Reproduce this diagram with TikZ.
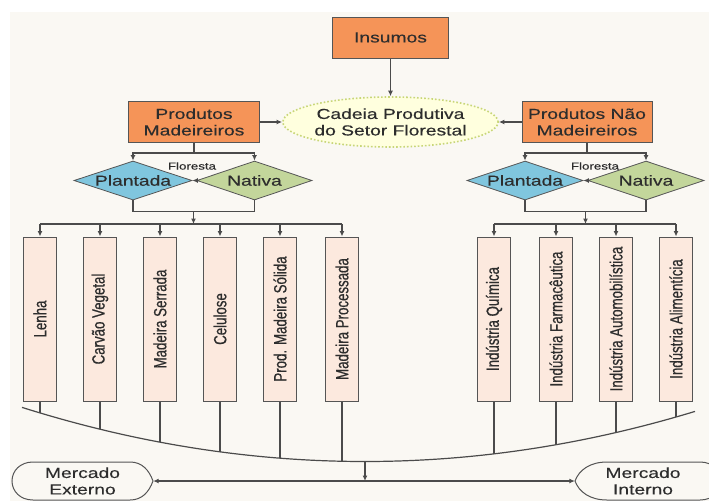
\documentclass[tikz,border=0pt]{standalone}
\usepackage{graphicx}
\usepackage{fontspec}
\setmainfont{Liberation Sans}[FakeStretch=1.33, FakeBold=0.3]
\newfontfamily\vertfont{Liberation Sans}[FakeStretch=0.75, FakeBold=0.6]
\usetikzlibrary{arrows.meta,shapes.geometric}

\definecolor{fundo}{RGB}{250,248,243}
\definecolor{laranja}{RGB}{245,148,88}
\definecolor{borda}{RGB}{85,85,85}
\definecolor{cinza}{RGB}{75,75,75}
\definecolor{azul}{RGB}{128,198,222}
\definecolor{verde}{RGB}{195,214,155}
\definecolor{amarelo}{RGB}{255,255,222}
\definecolor{pontilhado}{RGB}{200,214,120}
\definecolor{pele}{RGB}{252,233,222}
\definecolor{texto}{RGB}{45,45,45}

\begin{document}
\begin{tikzpicture}[x=1pt, y=-1pt, >={Latex[length=5.5pt,width=5pt]},
    linha/.style={draw=cinza, line width=1.2pt},
    caixa/.style={draw=borda, fill=laranja, line width=1pt, minimum height=41pt, align=center, inner sep=2pt, text=texto, font=\fontsize{14.5}{16.5}\selectfont},
    losango/.style={diamond, draw=borda, line width=0.8pt, minimum width=118pt, minimum height=39pt, aspect=3, inner sep=0pt, text=texto, font=\fontsize{14.5}{16.5}\selectfont},
    produto/.style={draw=borda, fill=pele, line width=1pt, minimum width=33pt, minimum height=164pt, inner sep=0pt, text=texto, font=\vertfont\fontsize{17.7}{18}\selectfont},
    mercado/.style={minimum height=37pt, align=center, inner sep=0pt, text=texto, font=\fontsize{14.5}{16.5}\selectfont},
    rotulo/.style={text=texto, font=\fontsize{10}{12}\selectfont}]

    % fundo
    \useasboundingbox (0,0) rectangle (709,501);
    \fill[white] (0,0) rectangle (709,501);
    \fill[fundo] (10,12) rectangle (709,501);

    % topo: insumos e cadeia produtiva
    \node[caixa, minimum width=116pt] (ins) at (390.5,37.5) {Insumos};
    \node[ellipse, draw=pontilhado, fill=amarelo, dotted, line width=1.6pt, minimum width=182pt, minimum height=50pt, inner sep=0pt, align=center, text=texto, font=\fontsize{14.5}{16.5}\selectfont] (cad) at (390.5,122) {Cadeia Produtiva\\do Setor Florestal};
    \node[caixa, minimum width=131pt] (pm) at (194,122) {Produtos\\Madeireiros};
    \node[caixa, minimum width=130pt] (pnm) at (587,122) {Produtos Não\\Madeireiros};
    \draw[linha,->] (ins) -- (cad);
    \draw[linha,->] (pm) -- (cad);
    \draw[linha,->] (pnm) -- (cad);

    % floresta (madeireiros)
    \node[losango, fill=azul] (plE) at (133,180.5) {Plantada};
    \node[losango, fill=verde, minimum width=115pt] (naE) at (254.5,180.5) {Nativa};
    \node[rotulo] (flE) at (192,166) {Floresta};
    \draw[linha,->] (naE.west) -- (plE.east);
    \coordinate (rE) at (194,153);
    \draw[linha] (pm.south) -- (rE);
    \draw[linha,->] (rE) -| (plE.north);
    \draw[linha,->] (rE) -| (naE.north);
    \coordinate (jE) at (193.5,211.5);
    \coordinate (dE) at (193.5,224);
    \draw[linha] (plE.south) |- (jE) -| (naE.south);
    \draw[linha,->] (jE) -- (dE);

    % floresta (nao madeireiros)
    \node[losango, fill=azul, minimum width=116pt] (plD) at (525,180.5) {Plantada};
    \node[losango, fill=verde, minimum width=116pt] (naD) at (646,180.5) {Nativa};
    \node[rotulo] (flD) at (595,166) {Floresta};
    \draw[linha,->] (naD.west) -- (plD.east);
    \coordinate (rD) at (587,153);
    \draw[linha] (pnm.south) -- (rD);
    \draw[linha,->] (rD) -| (plD.north);
    \draw[linha,->] (rD) -| (naD.north);
    \coordinate (jD) at (585.5,211.5);
    \coordinate (dD) at (585.5,224);
    \draw[linha] (plD.south) |- (jD) -| (naD.south);
    \draw[linha,->] (jD) -- (dD);

    % produtos
    \foreach \nome/\x/\txt in {lenha/40/Lenha, carvao/100/Carvão Vegetal, serrada/160/Madeira Serrada, celulose/220/Celulose, solida/280/Prod. Madeira Sólida, processada/342/Madeira Processada, quimica/494/Indústria Química, farma/556/Indústria Farmacêutica, auto/616/Indústria Automobilística, alim/676/Indústria Alimentícia}
        \node[produto] (\nome) at (\x,319) {\rotatebox{90}{\txt}};

    % distribuicao
    \draw[linha] (lenha.north |- dE) -- (processada.north |- dE);
    \draw[linha] (quimica.north |- dD) -- (alim.north |- dD);
    \foreach \nome in {lenha, carvao, serrada, celulose, solida, processada}
        \draw[linha,->] (\nome.north |- dE) -- (\nome.north);
    \foreach \nome in {quimica, farma, auto, alim}
        \draw[linha,->] (\nome.north |- dD) -- (\nome.north);

    % curva inferior
    \draw[linha] plot[domain=22:695, samples=90] (\x,{461.5-4.6*((\x-365)/100)^2});
    \foreach \nome/\x in {lenha/40, carvao/100, serrada/160, celulose/220, solida/280, processada/342, quimica/494, farma/556, auto/616, alim/676}{
        \coordinate (c\nome) at (\x,{461.5-4.6*((\x-365)/100)^2});
        \draw[linha] (\nome.south) -- (c\nome);
    }

    % mercados
    \draw[borda, line width=1pt, fill=fundo] (153,481) .. controls (149,470) and (142,462) .. (130,462) -- (33,462) .. controls (20,462) and (12,471) .. (12,481) .. controls (12,491) and (20,500) .. (33,500) -- (130,500) .. controls (142,500) and (149,492) .. (153,481) -- cycle;
    \draw[borda, line width=1pt, fill=fundo] (575,481) .. controls (579,470) and (590,462) .. (607,462) -- (700,462) .. controls (713,462) and (721,471) .. (721,481) .. controls (721,491) and (713,500) .. (700,500) -- (607,500) .. controls (590,500) and (579,492) .. (575,481) -- cycle;
    \node[mercado, minimum width=141pt] (me) at (82.5,481) {Mercado\\Externo};
    \node[mercado, minimum width=136pt] (mi) at (643,481) {Mercado\\Interno};
    \coordinate (cM) at (365,461.5);
    \coordinate (mM) at (365,481);
    \draw[linha,<->] (me.east) -- (mi.west);
    \draw[linha,->] (cM) -- (mM);
\end{tikzpicture}
\end{document}
